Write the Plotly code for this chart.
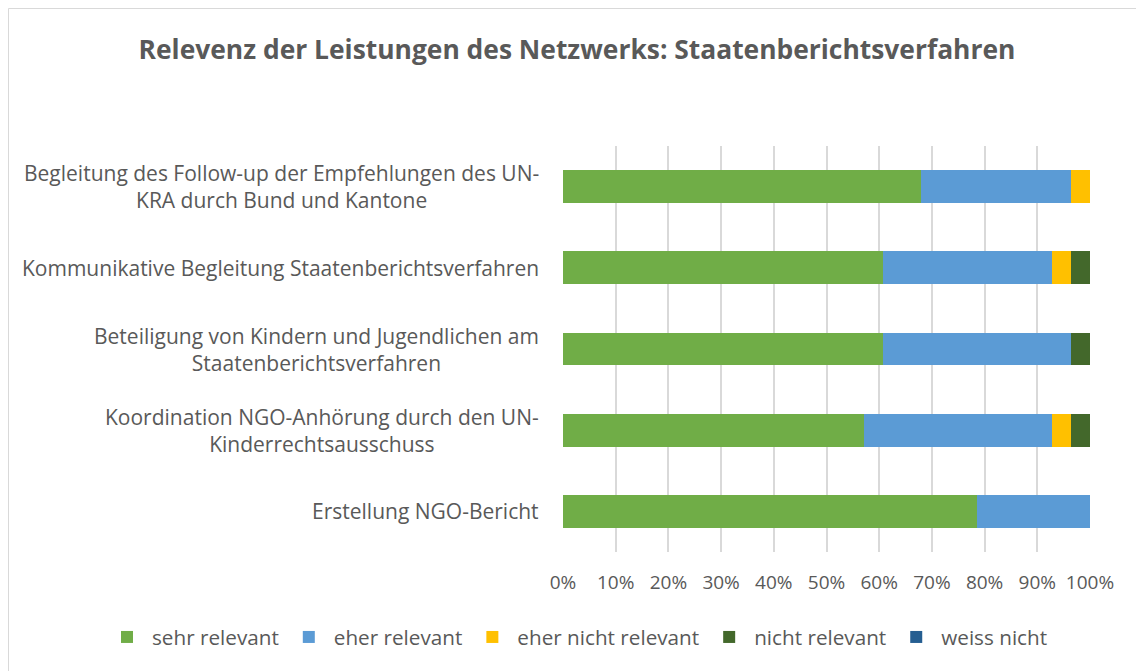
import plotly.graph_objects as go

categories = [
    "Begleitung des Follow-up der Empfehlungen des UN-<br>KRA durch Bund und Kantone",
    "Kommunikative Begleitung Staatenberichtsverfahren",
    "Beteiligung von Kindern und Jugendlichen am<br>Staatenberichtsverfahren",
    "Koordination NGO-Anhörung durch den UN-<br>Kinderrechtsausschuss",
    "Erstellung NGO-Bericht",
]
series_names = ["sehr relevant", "eher relevant", "eher nicht relevant", "nicht relevant", "weiss nicht"]
sehr_relevant = [67.86, 60.71, 60.71, 57.14, 78.57]
eher_relevant = [28.57, 32.14, 35.71, 35.71, 21.43]
eher_nicht_relevant = [3.57, 3.57, 0.0, 3.57, 0.0]
nicht_relevant = [0.0, 3.57, 3.57, 3.57, 0.0]
weiss_nicht = [0.0, 0.0, 0.0, 0.0, 0.0]
tick_vals = [0, 10, 20, 30, 40, 50, 60, 70, 80, 90, 100]
tick_text = ["0%", "10%", "20%", "30%", "40%", "50%", "60%", "70%", "80%", "90%", "100%"]

colors = ["#70AD47", "#5B9BD5", "#FFC000", "#43682B", "#255E91"]
values = [sehr_relevant, eher_relevant, eher_nicht_relevant, nicht_relevant, weiss_nicht]

FONT = "Open Sans"
TXT = "#595959"
W, H = 1136, 663
L, T, PW, PH = 555, 138, 527, 406

fig = go.Figure()
for name, vals, col in zip(series_names, values, colors):
    fig.add_trace(go.Bar(
        y=categories, x=vals, name=name, orientation="h",
        marker=dict(color=col, line=dict(width=0)),
    ))

for cat in categories:
    fig.add_annotation(
        x=0, xref="paper", xanchor="right", xshift=-22,
        y=cat, yref="y", yanchor="middle",
        text=cat, showarrow=False, align="center",
        font=dict(family=FONT, size=21, color=TXT),
    )

fig.update_layout(
    width=W, height=H,
    paper_bgcolor="white", plot_bgcolor="white",
    barmode="stack", bargap=0.594,
    margin=dict(l=L, r=W - L - PW, t=T, b=H - T - PH, autoexpand=False),
    title=dict(
        text="<b>Relevenz der Leistungen des Netzwerks: Staatenberichtsverfahren</b>",
        x=569 / W, xanchor="center", y=1 - 42 / H, yanchor="middle",
        font=dict(family=FONT, size=26.4, color=TXT),
    ),
    xaxis=dict(
        range=[0, 100], tickvals=tick_vals, ticktext=tick_text,
        showgrid=True, gridcolor="#D9D9D9", gridwidth=1.5,
        zeroline=False, showline=False, ticks="",
        tickfont=dict(family=FONT, size=19, color=TXT),
        ticklabelstandoff=17,
    ),
    yaxis=dict(
        autorange="reversed", showticklabels=False, showgrid=False,
        zeroline=False, showline=False, ticks="",
    ),
    legend=dict(
        orientation="h", xref="paper", yref="paper",
        x=(94 - L) / PW, xanchor="left", y=1 - (629 - T) / PH, yanchor="middle",
        font=dict(family=FONT, size=20.7, color=TXT),
        itemwidth=40, traceorder="normal",
    ),
    shapes=[dict(type="rect", xref="paper", yref="paper",
                 x0=(0.5 - L) / PW, x1=(W + 20 - L) / PW,
                 y0=-(H + 20 - T - PH) / PH, y1=1 + (T - 0.5) / PH,
                 line=dict(color="#D9D9D9", width=1), fillcolor="rgba(0,0,0,0)", layer="below")],
)

fig.write_html("out.html")
